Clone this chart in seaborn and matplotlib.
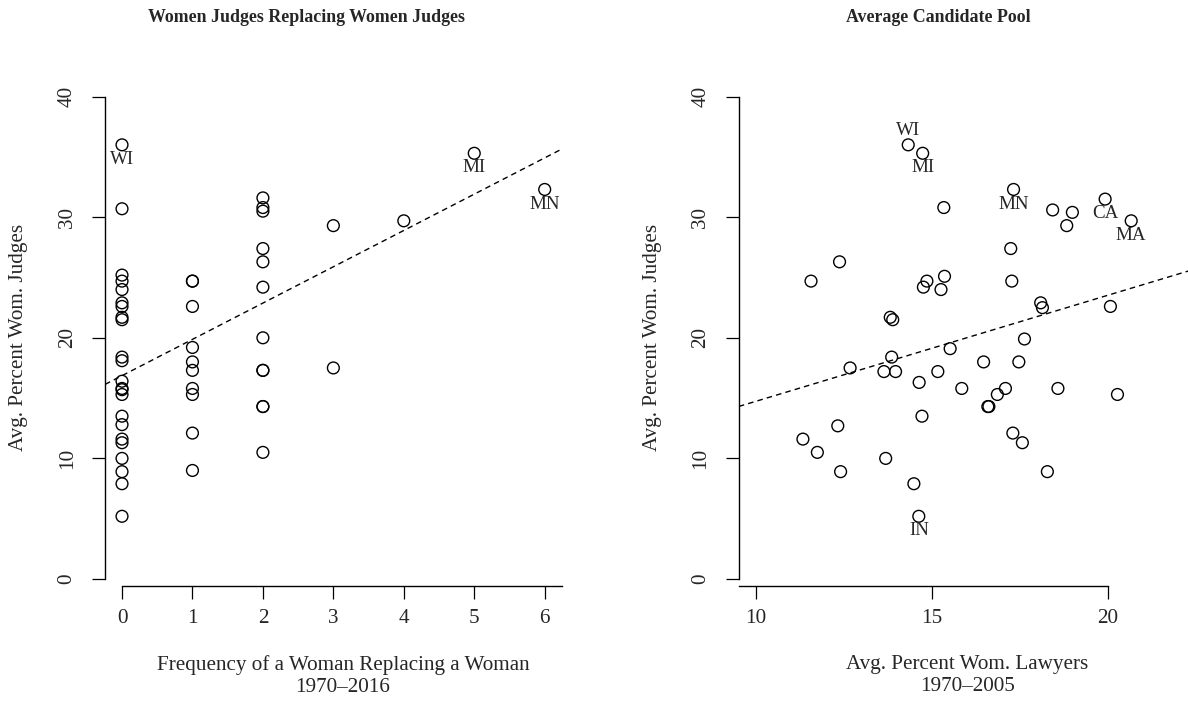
import matplotlib as mpl
mpl.use('Agg')
import matplotlib.pyplot as plt
import pandas as pd
import seaborn as sns

# Left panel: frequency of a woman replacing a woman vs avg. percent women judges
freq_replace = [0, 0, 0, 0, 0, 0, 0, 0, 0, 0, 0, 0, 0, 0, 0, 0, 0, 0, 0, 0, 0, 0, 0,
                1, 1, 1, 1, 1, 1, 1, 1, 1, 1,
                2, 2, 2, 2, 2, 2, 2, 2, 2, 2, 2, 2,
                3, 3, 4, 5, 6]
judges_left = [36.0, 30.7, 25.2, 24.7, 24.0, 22.9, 22.6, 21.7, 21.5, 18.4, 18.1, 16.4,
               15.8, 15.7, 15.3, 13.5, 12.8, 11.6, 11.3, 10.0, 8.9, 7.9, 5.2,
               24.7, 24.7, 22.6, 19.2, 18.0, 17.3, 15.8, 15.3, 12.1, 9.0,
               31.6, 30.8, 30.5, 27.4, 26.3, 24.2, 20.0, 17.3, 17.3, 14.3, 14.3, 10.5,
               29.3, 17.5, 29.7, 35.3, 32.3]
states_left = ['WI'] + [''] * 44 + ['', '', '', 'MI', 'MN']

# Right panel: avg. percent women lawyers vs avg. percent women judges
lawyers = [14.33, 14.74, 17.32, 19.92, 15.34, 18.43, 18.99, 20.66, 18.83, 17.24,
           12.38, 15.36, 11.57, 14.86, 17.27, 14.76, 15.26, 18.09, 20.07, 18.14,
           13.82, 13.89, 17.63, 15.52, 13.86, 16.47, 17.47, 12.68, 13.64, 13.97,
           15.17, 14.64, 15.85, 17.09, 18.58, 16.86, 20.27, 16.59, 16.62, 14.72,
           12.33, 17.30, 11.34, 17.57, 11.75, 13.69, 12.41, 18.28, 14.49, 14.63]
judges_right = [36.0, 35.3, 32.3, 31.5, 30.8, 30.6, 30.4, 29.7, 29.3, 27.4,
                26.3, 25.1, 24.7, 24.7, 24.7, 24.2, 24.0, 22.9, 22.6, 22.5,
                21.7, 21.5, 19.9, 19.1, 18.4, 18.0, 18.0, 17.5, 17.2, 17.2,
                17.2, 16.3, 15.8, 15.8, 15.8, 15.3, 15.3, 14.3, 14.3, 13.5,
                12.7, 12.1, 11.6, 11.3, 10.5, 10.0, 8.9, 8.9, 7.9, 5.2]
states_right = ['WI', 'MI', 'MN', 'CA', '', '', '', 'MA'] + [''] * 41 + ['IN']

# fitted lines: (intercept, slope)
fit_left = (16.86, 3.01)
fit_right = (5.93, 0.88)

# label placement (points offset): above or below the marker
label_offset = {'above': 10, 'below': -10.5}
right_above = ['WI']

df_left = pd.DataFrame({'freq': freq_replace, 'judges': judges_left, 'state': states_left})
df_right = pd.DataFrame({'lawyers': lawyers, 'judges': judges_right, 'state': states_right})

sns.set_style('white')
plt.rcParams['font.family'] = ['Liberation Serif', 'DejaVu Serif']

FS = 15.2

fig = plt.figure(figsize=(11.88, 7.15), dpi=100)
ax1 = fig.add_axes([0.08847, 0.16322, 0.38426, 0.72867])
ax2 = fig.add_axes([0.62189, 0.16322, 0.38426, 0.72867])

scatter_kws = {'facecolors': 'none', 'edgecolors': 'black', 's': 72, 'linewidths': 1.0, 'alpha': 1, 'zorder': 3}

panels = [(ax1, df_left, 'freq', fit_left, (-0.24, 6.24), [0, 1, 2, 3, 4, 5, 6], (0, 6.24),
           'Frequency of a Woman Replacing a Woman\n1970\u20132016', [], 0.521),
          (ax2, df_right, 'lawyers', fit_right, (9.52, 22.48), [10, 15, 20], (9.52, 20),
           'Avg. Percent Wom. Lawyers\n1970\u20132005', right_above, 0.5)]

for ax, df, xcol, fit, xlim, xticks, xbounds, xlabel, above, xlab_pos in panels:
  sns.regplot(data=df, x=xcol, y='judges', ax=ax, fit_reg=False,
              color='black', scatter_kws=scatter_kws)
  ax.axline((0, fit[0]), slope=fit[1], color='black', lw=1.0, ls=(0, (4, 3)))
  ax.set_xlim(xlim)
  ax.set_ylim(-1.6, 41.6)

  for _, row in df[df['state'] != ''].iterrows():
    where = 'above' if row['state'] in above else 'below'
    ax.annotate(row['state'], (row[xcol], row['judges']),
                xytext=(0, label_offset[where]), textcoords='offset points',
                ha='center', va='center', fontsize=FS - 1.5)

  sns.despine(ax=ax)
  ax.spines['left'].set_bounds(0, 40)
  ax.spines['bottom'].set_position(('data', -0.55))
  ax.spines['bottom'].set_bounds(*xbounds)
  for sp in ['left', 'bottom']:
    ax.spines[sp].set_linewidth(1.0)
    ax.spines[sp].set_color('black')

  ax.set_xticks(xticks)
  ax.set_yticks([0, 10, 20, 30, 40])
  ax.tick_params(axis='both', direction='out', length=9.5, width=0.9, color='black',
                 labelsize=FS, left=True, bottom=True)
  ax.tick_params(axis='x', pad=7)
  ax.tick_params(axis='y', pad=11, labelrotation=90)
  for lab in ax.get_yticklabels():
    lab.set_va('center')

  ax.set_xlabel(xlabel, fontsize=FS, linespacing=1.2)
  ax.xaxis.set_label_coords(xlab_pos, -0.109, transform=ax.transAxes)
  ax.xaxis.label.set_va('top')
  ax.set_ylabel('Avg. Percent Wom. Judges', fontsize=FS, labelpad=21)

fig.text(307 / 1188, 1 - 18 / 715, 'Women Judges Replacing Women Judges',
         ha='center', va='center', fontsize=12.9, fontweight='bold')
fig.text(938 / 1188, 1 - 18 / 715, 'Average Candidate Pool',
         ha='center', va='center', fontsize=12.9, fontweight='bold')

plt.savefig('out.png', dpi=100)
plt.close(fig)
